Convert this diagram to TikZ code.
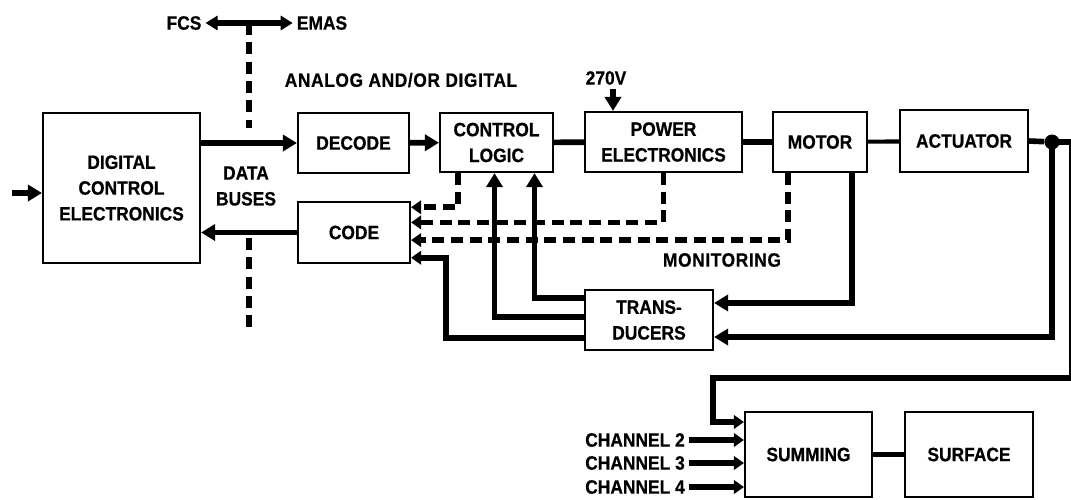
\documentclass[tikz,border=0pt]{standalone}
\usepackage{fontspec}
\setmainfont{Liberation Sans}[FakeStretch=0.9, FakeBold=0.6]
\usetikzlibrary{arrows.meta, calc}

\def\px{0.03cm}

\begin{document}
\begin{tikzpicture}[
    x=0.03cm, y=-0.03cm,
    font=\fontsize{16.5}{22}\selectfont\bfseries,
    block/.style={draw, line width=1.8pt, align=center, inner sep=0pt},
    link/.style={line width=4.8pt},
    feed/.style={line width=4.8pt, -{Triangle[length=0.42cm, width=0.48cm]}},
    inlet/.style={line width=4.8pt, -{Triangle[length=0.3cm, width=0.4cm]}},
    both/.style={line width=4.8pt, {Triangle[length=0.36cm, width=0.42cm]}-{Triangle[length=0.36cm, width=0.42cm]}},
    monit/.style={line width=4.8pt, dash pattern=on 0.36cm off 0.2cm,
                  -{Triangle[length=0.3cm, width=0.4cm]}},
    databus/.style={line width=4.8pt, dash pattern=on 0.36cm off 0.22cm}
  ]
  \useasboundingbox (0,0) rectangle (1071,499);
  \clip (0,0) rectangle (1071,499);

  % --- Bloques ---
  \node[block, minimum width=157*\px, minimum height=150*\px] (dce) at (121.5,188)
       {DIGITAL\\CONTROL\\ELECTRONICS};
  \node[block, minimum width=111*\px, minimum height=60*\px] (dec) at (353.5,143) {DECODE};
  \node[block, minimum width=112*\px, minimum height=61*\px] (code) at (354,232.5) {CODE};
  \node[block, minimum width=113*\px, minimum height=59*\px] (cl) at (496.5,142.5) {CONTROL\\LOGIC};
  \node[block, minimum width=157*\px, minimum height=60*\px] (pe) at (663.5,142) {POWER\\ELECTRONICS};
  \node[block, minimum width=94*\px, minimum height=60*\px] (motor) at (820,142) {MOTOR};
  \node[block, minimum width=128*\px, minimum height=62*\px] (act) at (964,141) {ACTUATOR};
  \node[block, minimum width=128*\px, minimum height=60*\px] (trans) at (649,320) {TRANS-\\DUCERS};
  \node[block, minimum width=127*\px, minimum height=85*\px] (sum) at (808.5,454.5) {SUMMING};
  \node[block, minimum width=128*\px, minimum height=85*\px] (surf) at (969,454.5) {SURFACE};
  \node[circle, fill, inner sep=0pt, minimum size=15*\px] (dot) at (1052,142) {};

  % --- Textos ---
  \node (fcs) at (184,23) {FCS};
  \node (emas) at (322,23) {EMAS};
  \node (analog) at (401,80) {\addfontfeature{LetterSpace=3}ANALOG AND/OR DIGITAL};
  \node[align=center] (buses) at (246,186) {DATA\\BUSES};
  \node (mon) at (722,260) {\addfontfeature{LetterSpace=3}MONITORING};
  \node (volt) at (606,78) {270V};

  % --- Buses de datos ---
  \draw[both] (fcs) -- (emas);
  \coordinate (bt) at ($(fcs.east)!0.5!(emas.west)$);
  \draw[databus] (bt) -- ++(0,105);
  \draw[databus] ($(bt)+(0,215)$) -- ++(0,95);

  % --- Camino directo ---
  \draw[feed] (12,193) -- (12,193 -| dce.west);
  \draw[feed] (dce.east |- dec) -- (dec);
  \draw[feed] (dec) -- (cl);
  \draw[link] (cl) -- (pe);
  \draw[link] (pe) -- (motor);
  \draw[link, line width=3.5pt] (motor) -- (act);
  \draw[link] (act.east) -- (dot);
  \draw[feed] (code.west) -- (code.west -| dce.east);
  \draw[feed] ($(volt.south)+(7,0)$) coordinate (v0) -- (v0 |- pe.north);

  % --- Entradas de CODE ---
  \coordinate (c1) at ($(code.north east)!0.1!(code.south east)$);
  \coordinate (c2) at ($(code.north east)!0.34!(code.south east)$);
  \coordinate (c3) at ($(code.north east)!0.62!(code.south east)$);
  \coordinate (c4) at ($(code.north east)!0.9!(code.south east)$);
  \draw[monit] ($(cl.south)+(-38.5,0)$) |- (c1);
  \draw[monit] (pe.south) |- (c2);
  \draw[monit] ($(motor.south)+(-32,0)$) |- (c3);
  \draw[inlet] ($(trans.west)+(0,18)$) -| ($(c4)+(35,0)$) -- (c4);

  % --- Transductores ---
  \draw[feed] ($(trans.west)+(0,-3)$) -| ($(cl.south)+(-2,0)$);
  \draw[feed] ($(trans.west)+(0,-22)$) -| ($(cl.south)+(38,0)$);
  \draw[feed] ($(motor.south)+(32,0)$) |- ($(trans.east)+(0,-17)$);
  \draw[feed] (dot.center) |- ($(trans.east)+(0,17)$);

  % --- Suma ---
  \draw[inlet] (dot.center) -- (1072,142) |- (713,378) |- ($(sum.west)+(0,-32.5)$);
  \foreach \n/\dy in {2/-14.5, 3/8.5, 4/32.5} {
    \node[anchor=east] (ch\n) at ($(sum.west)+(-55,\dy)$) {CHANNEL \n};
    \draw[inlet] (ch\n) -- ($(sum.west)+(0,\dy)$);
  }
  \draw[link] (sum) -- (surf);

\end{tikzpicture}
\end{document}
